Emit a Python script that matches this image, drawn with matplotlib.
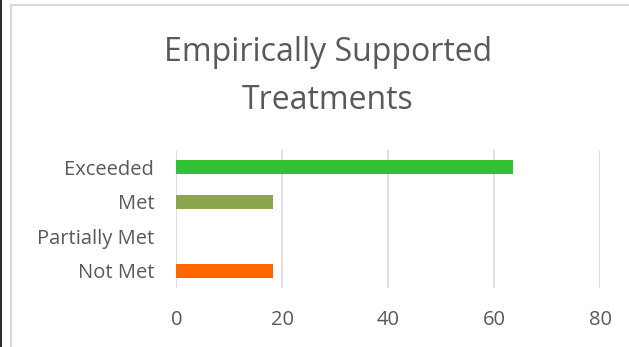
import matplotlib.pyplot as plt
from matplotlib.lines import Line2D

categories = ["Not Met", "Partially Met", "Met", "Exceeded"]
values = [18.2, 0, 18.2, 63.6]
colors = ["#FF6600", "#FFFFFF", "#8BA64C", "#33C233"]
xticks = [0, 20, 40, 60, 80]

plt.rcParams['font.family'] = ['Open Sans', 'DejaVu Sans']
txt = "#595959"

fig = plt.figure(figsize=(6.29, 3.47), dpi=100)
ax = fig.add_axes([0.2806, 0.170, 0.954 - 0.2806, 0.398])

ax.barh(range(len(categories)), values, height=0.4, color=colors, zorder=3)
ax.set_xlim(0, 80)
ax.set_ylim(-0.5, 3.5)
ax.set_xticks(xticks)
ax.set_yticks(range(len(categories)))
ax.set_yticklabels(categories)
ax.tick_params(axis='both', length=0, colors=txt, labelsize=14.5)
ax.tick_params(axis='x', pad=16)
ax.tick_params(axis='y', pad=16)
ax.grid(axis='x', color="#D9D9D9", lw=1.2, zorder=0)
for s in ax.spines.values():
    s.set_visible(False)

fig.text(0.5215, 0.78, "Empirically Supported\nTreatments", ha='center', va='center',
         fontsize=23, color=txt, linespacing=1.6)

# chart border
fig.add_artist(Line2D([0.0175, 0.0175], [0, 0.986], color="#D9D9D9", lw=1.5, transform=fig.transFigure))
fig.add_artist(Line2D([0.0175, 1], [0.986, 0.986], color="#D9D9D9", lw=1.5, transform=fig.transFigure))
fig.add_artist(Line2D([0.001, 0.001], [0, 1], color="black", lw=1.2, transform=fig.transFigure))

fig.savefig("out.png", dpi=100)
